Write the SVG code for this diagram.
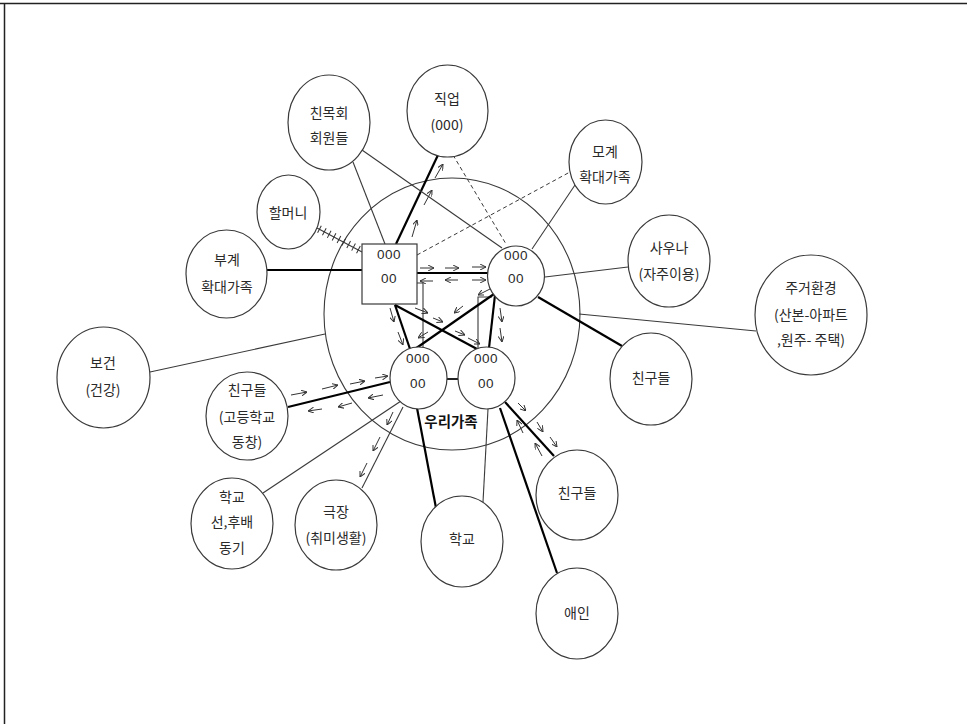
<svg xmlns="http://www.w3.org/2000/svg" width="967" height="724" viewBox="0 0 967 724">
  <style>
    .node { fill: #fff; stroke: #3a3a3a; stroke-width: 1.2; }
    .thin { stroke: #3a3a3a; stroke-width: 1.1; fill: none; }
    .thick { stroke: #000; stroke-width: 2.2; fill: none; }
    .dash { stroke: #3a3a3a; stroke-width: 1; stroke-dasharray: 4 3; fill: none; }
    .arr { stroke: #333; stroke-width: 1; fill: none; marker-end: url(#head); }
    .ko { font-family: "Noto Sans CJK KR", "Noto Sans", sans-serif; font-size: 14px; fill: #2a2a2a; text-anchor: middle; }
    .num { font-family: "Liberation Sans", Arial, sans-serif; font-size: 13.5px; fill: #2a2a2a; text-anchor: middle; letter-spacing: 0.5px; }
    .title { font-family: "Noto Sans CJK KR", sans-serif; font-size: 14.5px; font-weight: bold; fill: #111; text-anchor: middle; }
  </style>
  <defs>
    <marker id="head" viewBox="0 0 6 6" refX="6" refY="3" markerWidth="6" markerHeight="6" markerUnits="userSpaceOnUse" orient="auto">
      <path d="M0,0 L6,3 L0,6" fill="none" stroke="#333" stroke-width="1"/>
    </marker>
  </defs>

  <rect width="967" height="724" fill="#fff"/>
  <!-- frame -->
  <path d="M0,3.5 H967 M4.5,3 V724" stroke="#222" stroke-width="1.5" fill="none"/>

  <!-- household boundary -->
  <g id="household">
    <ellipse cx="452" cy="314" rx="128" ry="136" fill="none" stroke="#3a3a3a" stroke-width="1.1"/>
    <text class="title" x="451" y="427">우리가족</text>
  </g>

  <g id="connectors">
    <!-- outer ties -->
    <line class="thick" x1="267" y1="270" x2="362" y2="270"/>
    <line class="thin" x1="317" y1="228" x2="362" y2="252"/>
    <line x1="319" y1="229" x2="361" y2="251" stroke="#333" stroke-width="8" stroke-dasharray="1 4.5"/>
    <line class="thin" x1="353" y1="162" x2="385" y2="244"/>
    <line class="thick" x1="438" y1="155" x2="396" y2="244"/>
    <line class="dash" x1="417" y1="255" x2="570" y2="172"/>
    <line class="dash" x1="453" y1="155" x2="506" y2="244"/>
    <line class="thin" x1="362" y1="150" x2="502" y2="248"/>
    <line class="thin" x1="575" y1="185" x2="532" y2="249"/>
    <line class="thin" x1="545" y1="277" x2="628" y2="267"/>
    <line class="thick" x1="538" y1="297" x2="622" y2="346"/>
    <line class="thin" x1="579" y1="314" x2="756" y2="331"/>
    <line class="thin" x1="150" y1="372" x2="325" y2="334"/>

    <!-- ties inside the household -->
    <line class="thick" x1="417" y1="273" x2="488" y2="273"/>
    <polyline class="thin" points="417,283 423,283 423,349"/>
    <polyline class="thin" points="492,297 478,297 478,349"/>
    <line class="thick" x1="395" y1="305" x2="477" y2="349"/>
    <line class="thick" x1="395" y1="305" x2="410" y2="349"/>
    <line class="thick" x1="494" y1="294" x2="415" y2="349"/>
    <line class="thick" x1="495" y1="295" x2="489" y2="348"/>
    <line x1="447" y1="379" x2="458" y2="379" stroke="#222" stroke-width="2"/>

    <!-- lower ties -->
    <line class="thick" x1="288" y1="407" x2="390" y2="382"/>
    <line class="thin" x1="401" y1="401" x2="263" y2="493"/>
    <line class="thin" x1="403" y1="407" x2="362" y2="488"/>
    <line class="thick" x1="417" y1="408" x2="436" y2="508"/>
    <line class="thin" x1="488" y1="409" x2="483" y2="502"/>
    <line class="thick" x1="500" y1="408" x2="557" y2="573"/>
    <line class="thick" x1="505" y1="402" x2="554" y2="456"/>

    <!-- flow arrows -->
    <line class="arr" x1="412" y1="237" x2="417" y2="220"/>
    <line class="arr" x1="424" y1="205" x2="432" y2="190"/>
    <line class="arr" x1="435" y1="178" x2="443" y2="164"/>

    <line class="arr" x1="420" y1="268" x2="434" y2="268"/>
    <line class="arr" x1="445" y1="268" x2="459" y2="268"/>
    <line class="arr" x1="472" y1="267" x2="486" y2="267"/>
    <line class="arr" x1="433" y1="281" x2="420" y2="281"/>
    <line class="arr" x1="458" y1="280" x2="445" y2="280"/>
    <line class="arr" x1="472" y1="280" x2="486" y2="280"/>

    <line class="arr" x1="390" y1="308" x2="394" y2="322"/>
    <line class="arr" x1="398" y1="332" x2="403" y2="345"/>
    <line class="arr" x1="415" y1="308" x2="428" y2="313"/>
    <line class="arr" x1="433" y1="318" x2="443" y2="322"/>
    <line class="arr" x1="455" y1="331" x2="465" y2="335"/>
    <line class="arr" x1="468" y1="338" x2="480" y2="344"/>
    <line class="arr" x1="490" y1="289" x2="478" y2="295"/>
    <line class="arr" x1="463" y1="306" x2="454" y2="313"/>
    <line class="arr" x1="428" y1="332" x2="418" y2="338"/>
    <line class="arr" x1="500" y1="308" x2="502" y2="322"/>
    <line class="arr" x1="500" y1="328" x2="502" y2="342"/>

    <line class="arr" x1="291" y1="395" x2="307" y2="392"/>
    <line class="arr" x1="322" y1="389" x2="338" y2="385"/>
    <line class="arr" x1="350" y1="384" x2="365" y2="381"/>
    <line class="arr" x1="375" y1="378" x2="388" y2="376"/>
    <line class="arr" x1="322" y1="409" x2="308" y2="411"/>
    <line class="arr" x1="352" y1="403" x2="338" y2="407"/>
    <line class="arr" x1="383" y1="395" x2="368" y2="398"/>

    <line class="arr" x1="393" y1="412" x2="387" y2="425"/>
    <line class="arr" x1="380" y1="437" x2="373" y2="451"/>
    <line class="arr" x1="367" y1="463" x2="360" y2="477"/>

    <line class="arr" x1="518" y1="403" x2="526" y2="411"/>
    <line class="arr" x1="537" y1="422" x2="543" y2="432"/>
    <line class="arr" x1="550" y1="437" x2="557" y2="447"/>
    <line class="arr" x1="523" y1="433" x2="517" y2="420"/>
    <line class="arr" x1="542" y1="456" x2="535" y2="443"/>
  </g>

  <!-- household members -->
  <g id="member-square">
    <rect class="node" x="362" y="244" width="55" height="60"/>
    <text class="num" x="389" y="259">000</text>
    <text class="num" x="389" y="283">00</text>
  </g>
  <g id="member-upper">
    <ellipse class="node" cx="516" cy="276" rx="28.5" ry="30"/>
    <text class="num" x="516" y="260">000</text>
    <text class="num" x="516" y="283">00</text>
  </g>
  <g id="member-lower-left">
    <ellipse class="node" cx="418.5" cy="378" rx="28.5" ry="31"/>
    <text class="num" x="418" y="363">000</text>
    <text class="num" x="418" y="388">00</text>
  </g>
  <g id="member-lower-right">
    <ellipse class="node" cx="486.5" cy="378" rx="28.5" ry="31"/>
    <text class="num" x="486" y="363">000</text>
    <text class="num" x="486" y="388">00</text>
  </g>

  <!-- outside systems -->
  <g id="alumni">
    <ellipse class="node" cx="329" cy="122.5" rx="41" ry="47.5"/>
    <text class="ko" x="329" y="118">친목회</text>
    <text class="ko" x="329" y="143">회원들</text>
  </g>
  <g id="job">
    <ellipse class="node" cx="447.5" cy="111" rx="40.5" ry="46"/>
    <text class="ko" x="447" y="104">직업</text>
    <text class="ko" x="447" y="130">(000)</text>
  </g>
  <g id="grandmother">
    <ellipse class="node" cx="288.5" cy="212" rx="31.5" ry="37"/>
    <text class="ko" x="288" y="218">할머니</text>
  </g>
  <g id="paternal">
    <ellipse class="node" cx="226.5" cy="274" rx="40.5" ry="44"/>
    <text class="ko" x="227" y="265">부계</text>
    <text class="ko" x="227" y="292">확대가족</text>
  </g>
  <g id="health">
    <ellipse class="node" cx="103.5" cy="377.5" rx="46.5" ry="50.5"/>
    <text class="ko" x="103" y="368">보건</text>
    <text class="ko" x="103" y="395">(건강)</text>
  </g>
  <g id="hs-friends">
    <ellipse class="node" cx="247" cy="416" rx="41" ry="44"/>
    <text class="ko" x="247" y="395">친구들</text>
    <text class="ko" x="247" y="422">(고등학교</text>
    <text class="ko" x="247" y="447">동창)</text>
  </g>
  <g id="school-peers">
    <ellipse class="node" cx="232" cy="523.5" rx="41" ry="45.5"/>
    <text class="ko" x="232" y="502">학교</text>
    <text class="ko" x="232" y="527">선,후배</text>
    <text class="ko" x="232" y="553">동기</text>
  </g>
  <g id="theater">
    <ellipse class="node" cx="336" cy="525" rx="41" ry="45"/>
    <text class="ko" x="336" y="517">극장</text>
    <text class="ko" x="336" y="543">(취미생활)</text>
  </g>
  <g id="school">
    <ellipse class="node" cx="462" cy="541.5" rx="41" ry="45.5"/>
    <text class="ko" x="462" y="544">학교</text>
  </g>
  <g id="friends-lower">
    <ellipse class="node" cx="577" cy="495" rx="41" ry="45"/>
    <text class="ko" x="577" y="498">친구들</text>
  </g>
  <g id="partner">
    <ellipse class="node" cx="577" cy="613.5" rx="41" ry="45.5"/>
    <text class="ko" x="577" y="618">애인</text>
  </g>
  <g id="maternal">
    <ellipse class="node" cx="605.5" cy="162" rx="36.5" ry="42"/>
    <text class="ko" x="605" y="157">모계</text>
    <text class="ko" x="605" y="182">확대가족</text>
  </g>
  <g id="sauna">
    <ellipse class="node" cx="669" cy="261" rx="41" ry="46"/>
    <text class="ko" x="669" y="253">사우나</text>
    <text class="ko" x="669" y="279">(자주이용)</text>
  </g>
  <g id="housing">
    <ellipse class="node" cx="811" cy="315" rx="56" ry="60"/>
    <text class="ko" x="811" y="293">주거환경</text>
    <text class="ko" x="811" y="320">(산본-아파트</text>
    <text class="ko" x="811" y="345">,원주- 주택)</text>
  </g>
  <g id="friends-right">
    <ellipse class="node" cx="651" cy="379" rx="41" ry="46"/>
    <text class="ko" x="651" y="383">친구들</text>
  </g>
</svg>
